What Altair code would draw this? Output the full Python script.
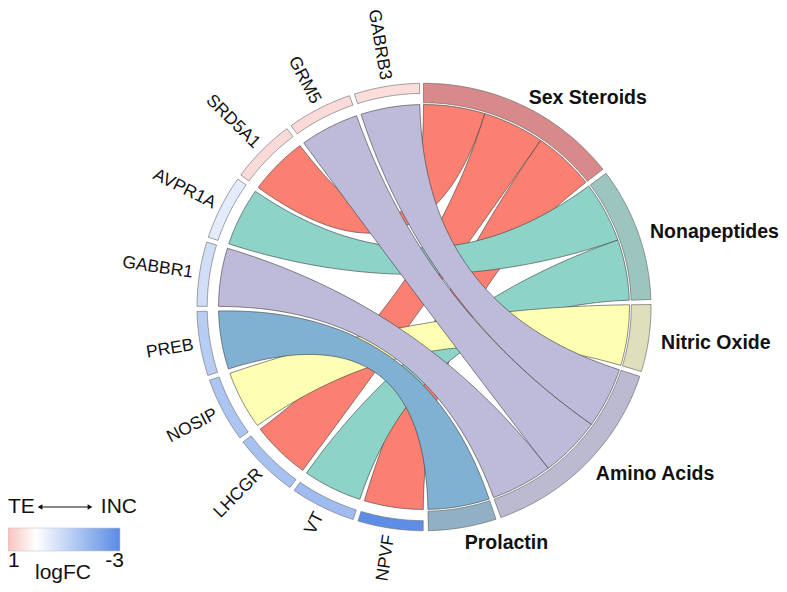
import math
import altair as alt
import pandas as pd

# ---------------- data ----------------
genes = ["GABRB3", "GRM5", "SRD5A1", "AVPR1A", "GABBR1", "PREB", "NOSIP", "LHCGR", "VT", "NPVF"]
gene_logfc = [0.55, 0.6, 0.6, -0.5, -0.85, -1.3, -1.5, -1.6, -1.75, -2.95]

groups = ["Sex Steroids", "Nonapeptides", "Nitric Oxide", "Amino Acids", "Prolactin"]
group_link_colors = ["#fb8072", "#8dd3c7", "#ffffb3", "#bebada", "#80b1d3"]
group_bar_colors = ["#d8898a", "#9cc5bf", "#dfdfbb", "#bcbad1", "#8fb0c5"]

link_gene = ["GABRB3", "GRM5", "SRD5A1", "AVPR1A", "GABBR1", "PREB", "NOSIP", "LHCGR", "VT", "NPVF"]
link_group = ["Amino Acids", "Amino Acids", "Sex Steroids", "Nonapeptides", "Amino Acids",
              "Prolactin", "Nitric Oxide", "Sex Steroids", "Nonapeptides", "Sex Steroids"]
link_value = [1, 1, 1, 1, 1, 1, 1, 1, 1, 1]
draw_order = ["Sex Steroids", "Nonapeptides", "Nitric Oxide", "Prolactin", "Amino Acids"]

legend_values = [1, 0, -3]
legend_colors = ["#f8c3bf", "#ffffff", "#5a8be5"]

# ---------------- layout ----------------
OX, OY = 8, 8
CX, CY = 424 - OX, 307 - OY
RX, RY = 227.0, 223.7
GENE_BAR = (0.955, 1.0)
GROUP_BAR = (0.913, 1.0)
R_LINK = 0.905
GROUP_SPAN = (-0.15, 178.9)
GENE_SPAN = (180.2, 358.85)
GAP = 1.3
FONT = "Liberation Sans"


def pt(a, r):
    t = math.radians(a)
    return (CX + r * RX * math.sin(t), CY - r * RY * math.cos(t))


def arc(a1, a2, r, step=0.7):
    n = max(2, int(abs(a2 - a1) / step) + 1)
    return [pt(a1 + (a2 - a1) * i / (n - 1), r) for i in range(n)]


def bez(p0, p2, n=50):
    out = []
    for i in range(n):
        t = i / (n - 1)
        out.append(((1 - t) ** 2 * p0[0] + 2 * (1 - t) * t * CX + t * t * p2[0],
                    (1 - t) ** 2 * p0[1] + 2 * (1 - t) * t * CY + t * t * p2[1]))
    return out


def path(ring):
    return "M" + "L".join(f"{x:.2f},{y:.2f}" for x, y in ring) + "Z"


def layout(names, weights, span):
    unit = (span[1] - span[0] - GAP * (len(names) - 1)) / sum(weights)
    pos, a = {}, span[0]
    for n, w in zip(names, weights):
        pos[n] = (a, a + w * unit)
        a += w * unit + GAP
    return pos


gene_w = {g: 0 for g in genes}
group_w = {g: 0 for g in groups}
for g, k, v in zip(link_gene, link_group, link_value):
    gene_w[g] += v
    group_w[k] += v

gene_order = genes[::-1]  # clockwise from the bottom
gene_pos = layout(gene_order, [gene_w[g] for g in gene_order], GENE_SPAN)
group_pos = layout(groups, [group_w[g] for g in groups], GROUP_SPAN)

# slots inside each group sector (non crossing order)
slots = {}
for k in groups:
    a0, a1 = group_pos[k]
    idx = [i for i in range(len(link_group)) if link_group[i] == k]
    idx.sort(key=lambda i: -((sum(gene_pos[link_gene[i]]) / 2 - a1) % 360))
    unit = (a1 - a0) / group_w[k]
    a = a0
    for i in idx:
        slots[i] = (a, a + link_value[i] * unit)
        a += link_value[i] * unit

gene_rows = []
for g, v in zip(genes, gene_logfc):
    a0, a1 = gene_pos[g]
    gene_rows.append({"name": g, "logfc": v,
                      "d": path(arc(a0, a1, GENE_BAR[1]) + arc(a1, a0, GENE_BAR[0]))})

group_rows = []
for k in groups:
    a0, a1 = group_pos[k]
    group_rows.append({"name": k,
                       "d": path(arc(a0, a1, GROUP_BAR[1]) + arc(a1, a0, GROUP_BAR[0]))})

link_rows = []
for k in draw_order:
    for i in range(len(link_gene)):
        if link_group[i] != k:
            continue
        t1, t2 = slots[i]
        s1, s2 = gene_pos[link_gene[i]]
        ring = (arc(t1, t2, R_LINK) + bez(pt(t2, R_LINK), pt(s1, R_LINK))[1:-1]
                + arc(s1, s2, R_LINK) + bez(pt(s2, R_LINK), pt(t1, R_LINK))[1:-1])
        link_rows.append({"name": link_gene[i], "group": k, "d": path(ring)})


def shapes(rows, stroke, sw, fill):
    df = pd.DataFrame(rows)
    paths = list(df["d"])
    return alt.Chart(df).mark_point(
        filled=True, size=4, opacity=1, stroke=stroke, strokeWidth=sw).encode(
        x=alt.value(0), y=alt.value(0),
        shape=alt.Shape("d:N", scale=alt.Scale(domain=paths, range=paths), legend=None),
        fill=fill)


links = shapes(link_rows, "#3c3c3c", 0.6,
               alt.Fill("group:N", scale=alt.Scale(domain=groups, range=group_link_colors), legend=None))
gbars = shapes(group_rows, "#6e6e6e", 0.7,
               alt.Fill("name:N", scale=alt.Scale(domain=groups, range=group_bar_colors), legend=None))
nbars = shapes(gene_rows, "#7a7a7a", 0.7,
               alt.Fill("logfc:Q", scale=alt.Scale(domain=legend_values[::-1],
                                                   range=legend_colors[::-1], interpolate="rgb"),
                        legend=None))

one = pd.DataFrame({"a": [0]})


def label(text, x, y, align="left", size=18, weight="normal", angle=0):
    return alt.Chart(one).mark_text(
        text=text, align=align, baseline="middle", font=FONT, fontSize=size,
        fontWeight=weight, color="#111", angle=round(angle % 360, 2)).encode(
        x=alt.value(round(x, 2)), y=alt.value(round(y, 2)))


texts = []
for g in genes:
    m = sum(gene_pos[g]) / 2
    x, y = pt(m, 1.03)
    texts.append(label(g, x, y, align="right", size=17.5, angle=m + 90))
for k in groups:
    m = sum(group_pos[k]) / 2
    x, y = pt(m, 1.055)
    texts.append(label(k, x, y + 3, align="left", size=19.5, weight="bold"))

texts += [
    label("TE", 8 - OX, 507 - OY, "left", 21),
    label("INC", 137 - OX, 507 - OY, "right", 21),
    label(str(legend_values[0]), 8 - OX, 561 - OY, "left", 21),
    label(str(legend_values[-1]), 124 - OX, 561 - OY, "right", 21),
    label("logFC", 63 - OX, 573 - OY, "center", 21),
]

offsets = [(legend_values[0] - v) / (legend_values[0] - legend_values[-1]) for v in legend_values]
grad = alt.Chart(one).mark_rect(
    fill=alt.Gradient(gradient="linear", x1=0, x2=1, y1=0, y2=0,
                      stops=[alt.GradientStop(color=c, offset=o) for c, o in zip(legend_colors, offsets)]),
    stroke="#c8c8c8", strokeWidth=0.6).encode(
    x=alt.value(8 - OX), x2=alt.value(120 - OX), y=alt.value(528 - OY), y2=alt.value(551 - OY))

arrow_line = alt.Chart(one).mark_rule(color="#111", strokeWidth=1.2).encode(
    x=alt.value(40 - OX), x2=alt.value(90 - OX), y=alt.value(507 - OY))
arrow_l = alt.Chart(one).mark_point(
    shape="triangle-left", filled=True, size=30, color="#111", opacity=1).encode(
    x=alt.value(40 - OX), y=alt.value(507 - OY))
arrow_r = alt.Chart(one).mark_point(
    shape="triangle-right", filled=True, size=30, color="#111", opacity=1).encode(
    x=alt.value(90 - OX), y=alt.value(507 - OY))

chart = alt.layer(links, gbars, nbars, grad, arrow_line, arrow_l, arrow_r, *texts).resolve_scale(
    shape="independent", fill="independent"
).properties(
    width=771, height=576, padding=0, autosize="none", background="white"
).configure_view(stroke=None)

chart.save("out.html", embed_options={"renderer": "svg", "actions": False})
